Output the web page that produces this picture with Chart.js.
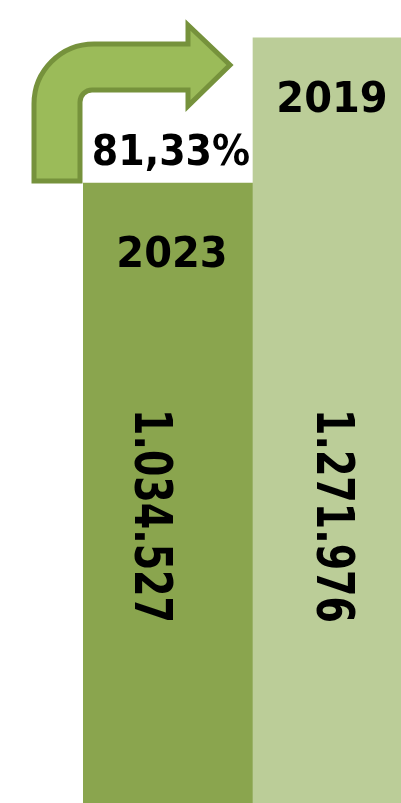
<!DOCTYPE html>
<html>
<head>
<meta charset="utf-8">
<script src="https://cdn.jsdelivr.net/npm/chart.js@4"></script>
<style>
  html, body { margin: 0; padding: 0; background: #fff; overflow: hidden; }
  #wrap { width: 401px; height: 803px; overflow: hidden; position: relative; }
  canvas { position: absolute; left: 0; top: 0; }
</style>
</head>
<body>
<div id="wrap"><canvas id="chart" width="423" height="815"></canvas></div>
<script>
const years = ['2023', '2019'];
const visitors = [1034527, 1271976];
const valueLabels = ['1.034.527', '1.271.976'];
const barColors = ['#8aa54e', '#bbcd98'];

// 2023 as a share of 2019
const share = (visitors[0] / visitors[1] * 100).toFixed(2).replace('.', ',') + '%';

// label offsets from each bar (x from bar centre, y from bar top)
const yearOffsets = [[4, 84], [-6, 74]];
const valueOffsets = [-33, -21];

function stretched(ctx, text, x, y, sy) {
    ctx.save();
    ctx.translate(x, y);
    ctx.scale(1, sy);
    ctx.fillText(text, 0, 0);
    ctx.restore();
}

const overlay = {
    id: 'overlay',
    afterDatasetsDraw(chart) {
        const ctx = chart.ctx;
        const bars = chart.getDatasetMeta(0).data;
        const b0 = bars[0];
        const L = b0.x - b0.width / 2;
        const T = b0.y;

        // curved arrow sitting on top of the 2023 bar
        const xl = L - 49, xr = L - 3, yt = T - 139, yi = T - 93, yb = T - 2;
        const hb = L + 105, ht = T - 158, hbot = T - 77, tipX = L + 147, tipY = T - 118;
        ctx.save();
        ctx.beginPath();
        ctx.moveTo(xl, yb);
        ctx.arcTo(xl, yt, xl + 60, yt, 60);
        ctx.lineTo(hb, yt);
        ctx.lineTo(hb, ht);
        ctx.lineTo(tipX, tipY);
        ctx.lineTo(hb, hbot);
        ctx.lineTo(hb, yi);
        ctx.arcTo(xr, yi, xr, yb, 12);
        ctx.lineTo(xr, yb);
        ctx.closePath();
        ctx.fillStyle = '#9bbb59';
        ctx.fill();
        ctx.lineWidth = 5;
        ctx.lineJoin = 'miter';
        ctx.strokeStyle = '#76923c';
        ctx.stroke();

        ctx.fillStyle = '#000';
        ctx.textAlign = 'center';
        ctx.textBaseline = 'alphabetic';
        ctx.font = 'bold 38px "DejaVu Sans"';
        stretched(ctx, share, b0.x + 3, T - 18, 1.12);

        ctx.font = 'bold 40px "DejaVu Sans"';
        bars.forEach((bar, i) => {
            stretched(ctx, years[i], bar.x + yearOffsets[i][0], bar.y + yearOffsets[i][1], 1.06);
        });

        ctx.font = 'bold 38px "DejaVu Sans"';
        bars.forEach((bar, i) => {
            ctx.save();
            ctx.translate(bar.x + valueOffsets[i], 516);
            ctx.rotate(Math.PI / 2);
            ctx.scale(1, 1.37);
            ctx.fillText(valueLabels[i], 0, 0);
            ctx.restore();
        });
        ctx.restore();
    }
};

new Chart(document.getElementById('chart'), {
    type: 'bar',
    data: {
        labels: years,
        datasets: [{
            data: visitors,
            backgroundColor: barColors,
            borderWidth: 0,
            barPercentage: 1,
            categoryPercentage: 1
        }]
    },
    options: {
        responsive: false,
        animation: false,
        layout: { padding: { left: 83, right: 0, top: 0, bottom: 0 } },
        plugins: { legend: { display: false }, tooltip: { enabled: false } },
        scales: {
            x: { display: false },
            y: { display: false, min: 0, max: 1334000 }
        }
    },
    plugins: [overlay]
});
</script>
</body>
</html>
